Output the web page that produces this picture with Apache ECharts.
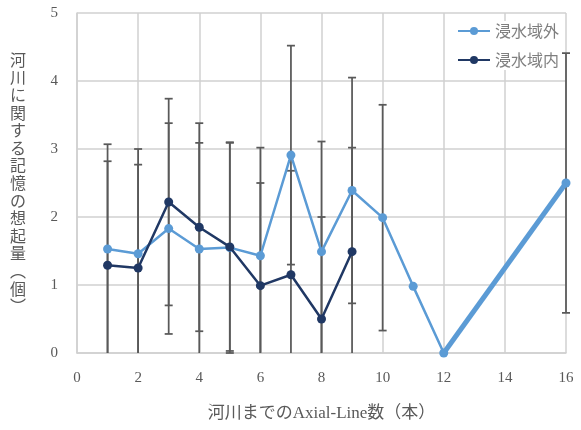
<!DOCTYPE html>
<html>
<head>
<meta charset="utf-8">
<script src="https://cdn.jsdelivr.net/npm/echarts@6/dist/echarts.min.js"></script>
<style>
  html, body { margin: 0; padding: 0; background: #fff; }
  #main { width: 581px; height: 430px; }
</style>
</head>
<body>
<div id="main"></div>
<script>
// 河川までのAxial-Line数
const outsideX = [1, 2, 3, 4, 5, 6, 7, 8, 9, 10, 11, 12, 16];
const outsideMean = [1.53, 1.46, 1.83, 1.53, 1.55, 1.43, 2.91, 1.49, 2.39, 1.99, 0.98, 0, 2.5];
const outsideErr = [1.54, 1.54, 1.55, 1.56, 1.55, 1.59, 1.61, 1.62, 1.66, 1.66, null, null, 1.91];

const insideX = [1, 2, 3, 4, 5, 6, 7, 8, 9];
const insideMean = [1.29, 1.25, 2.22, 1.85, 1.56, 0.99, 1.15, 0.5, 1.49];
const insideErr = [1.53, 1.52, 1.52, 1.53, 1.53, 1.51, 1.53, 1.5, 1.53];

// thick last segment (Excel artefact)
const tailX = [12, 16];
const tailMean = [0, 2.5];

const xTicks = { min: 0, max: 16, interval: 2 };
const yTicks = { min: 0, max: 5, interval: 1 };

const yName = '河川に関する記憶の想起量︵個︶';

const textColor = '#595959';
const gridColor = '#D0D0D0';
const errColor = '#595959';
const lightBlue = '#5B9BD5';
const navy = '#203864';

const pairs = (xs, ys) => xs.map((x, i) => [x, ys[i]]);
const errData = (xs, ys, es) =>
  xs.map((x, i) => [x, ys[i], es[i]]).filter(d => d[2] != null);

const errorBar = (api) => {
  const x = api.value(0);
  const v = api.value(1);
  const e = api.value(2);
  const hi = Math.min(yTicks.max, v + e);
  const lo = Math.max(0, v - e);
  const top = api.coord([x, hi]);
  const bot = api.coord([x, lo]);
  const cap = 4;
  const style = { stroke: errColor, lineWidth: 1.75 };
  const children = [
    { type: 'line', shape: { x1: top[0], y1: top[1], x2: bot[0], y2: bot[1] }, style },
  ];
  if (v + e <= yTicks.max) {
    children.push({ type: 'line', shape: { x1: top[0] - cap, y1: top[1], x2: top[0] + cap, y2: top[1] }, style });
  }
  if (v - e >= 0) {
    children.push({ type: 'line', shape: { x1: bot[0] - cap, y1: bot[1], x2: bot[0] + cap, y2: bot[1] }, style });
  }
  return { type: 'group', children };
};

const chart = echarts.init(document.getElementById('main'));
chart.setOption({
  animation: false,
  grid: { left: 77, right: 15, top: 13, bottom: 77 },
  legend: {
    data: ['浸水域外', '浸水域内'],
    orient: 'vertical',
    right: 20,
    top: 21,
    itemWidth: 32,
    itemHeight: 10,
    itemGap: 13,
    backgroundColor: '#fff',
    padding: [2, 2, 2, 4],
    textStyle: { color: '#7f7f7f', fontSize: 16, fontFamily: 'Noto Sans CJK JP' },
  },
  xAxis: {
    type: 'value',
    min: xTicks.min,
    max: xTicks.max,
    interval: xTicks.interval,
    name: '河川までのAxial-Line数（本）',
    nameLocation: 'middle',
    nameGap: 52,
    nameTextStyle: { color: textColor, fontSize: 17, fontFamily: 'Liberation Serif, Noto Sans CJK JP' },
    axisLine: { show: true, lineStyle: { color: gridColor, width: 1.5 } },
    axisTick: { show: false },
    axisLabel: { color: textColor, fontSize: 15, margin: 18, fontFamily: 'Liberation Serif' },
    splitLine: { show: true, lineStyle: { color: gridColor, width: 1.5 } },
  },
  yAxis: {
    type: 'value',
    min: yTicks.min,
    max: yTicks.max,
    interval: yTicks.interval,
    name: yName.split('').join('\n'),
    nameLocation: 'middle',
    nameRotate: 0,
    nameGap: 51,
    nameTextStyle: { color: textColor, fontSize: 16, lineHeight: 17.6, fontFamily: 'Noto Sans CJK JP' },
    axisLine: { show: true, lineStyle: { color: gridColor, width: 1.5 } },
    axisTick: { show: false },
    axisLabel: { color: textColor, fontSize: 15, margin: 19, fontFamily: 'Liberation Serif' },
    splitLine: { show: true, lineStyle: { color: gridColor, width: 1.5 } },
  },
  series: [
    {
      name: 'err-outside',
      type: 'custom',
      z: 1,
      silent: true,
      renderItem: (params, api) => errorBar(api),
      data: errData(outsideX, outsideMean, outsideErr),
    },
    {
      name: 'err-inside',
      type: 'custom',
      z: 1,
      silent: true,
      renderItem: (params, api) => errorBar(api),
      data: errData(insideX, insideMean, insideErr),
    },
    {
      name: '浸水域外',
      type: 'line',
      z: 3,
      symbol: 'circle',
      symbolSize: 9,
      lineStyle: { color: lightBlue, width: 2.5 },
      itemStyle: { color: lightBlue },
      data: pairs(outsideX, outsideMean),
    },
    {
      name: 'tail',
      type: 'line',
      z: 3,
      symbol: 'none',
      lineStyle: { color: lightBlue, width: 5 },
      data: pairs(tailX, tailMean),
    },
    {
      name: '浸水域内',
      type: 'line',
      z: 4,
      symbol: 'circle',
      symbolSize: 9,
      lineStyle: { color: navy, width: 2.5 },
      itemStyle: { color: navy },
      data: pairs(insideX, insideMean),
    },
  ],
});
</script>
</body>
</html>
